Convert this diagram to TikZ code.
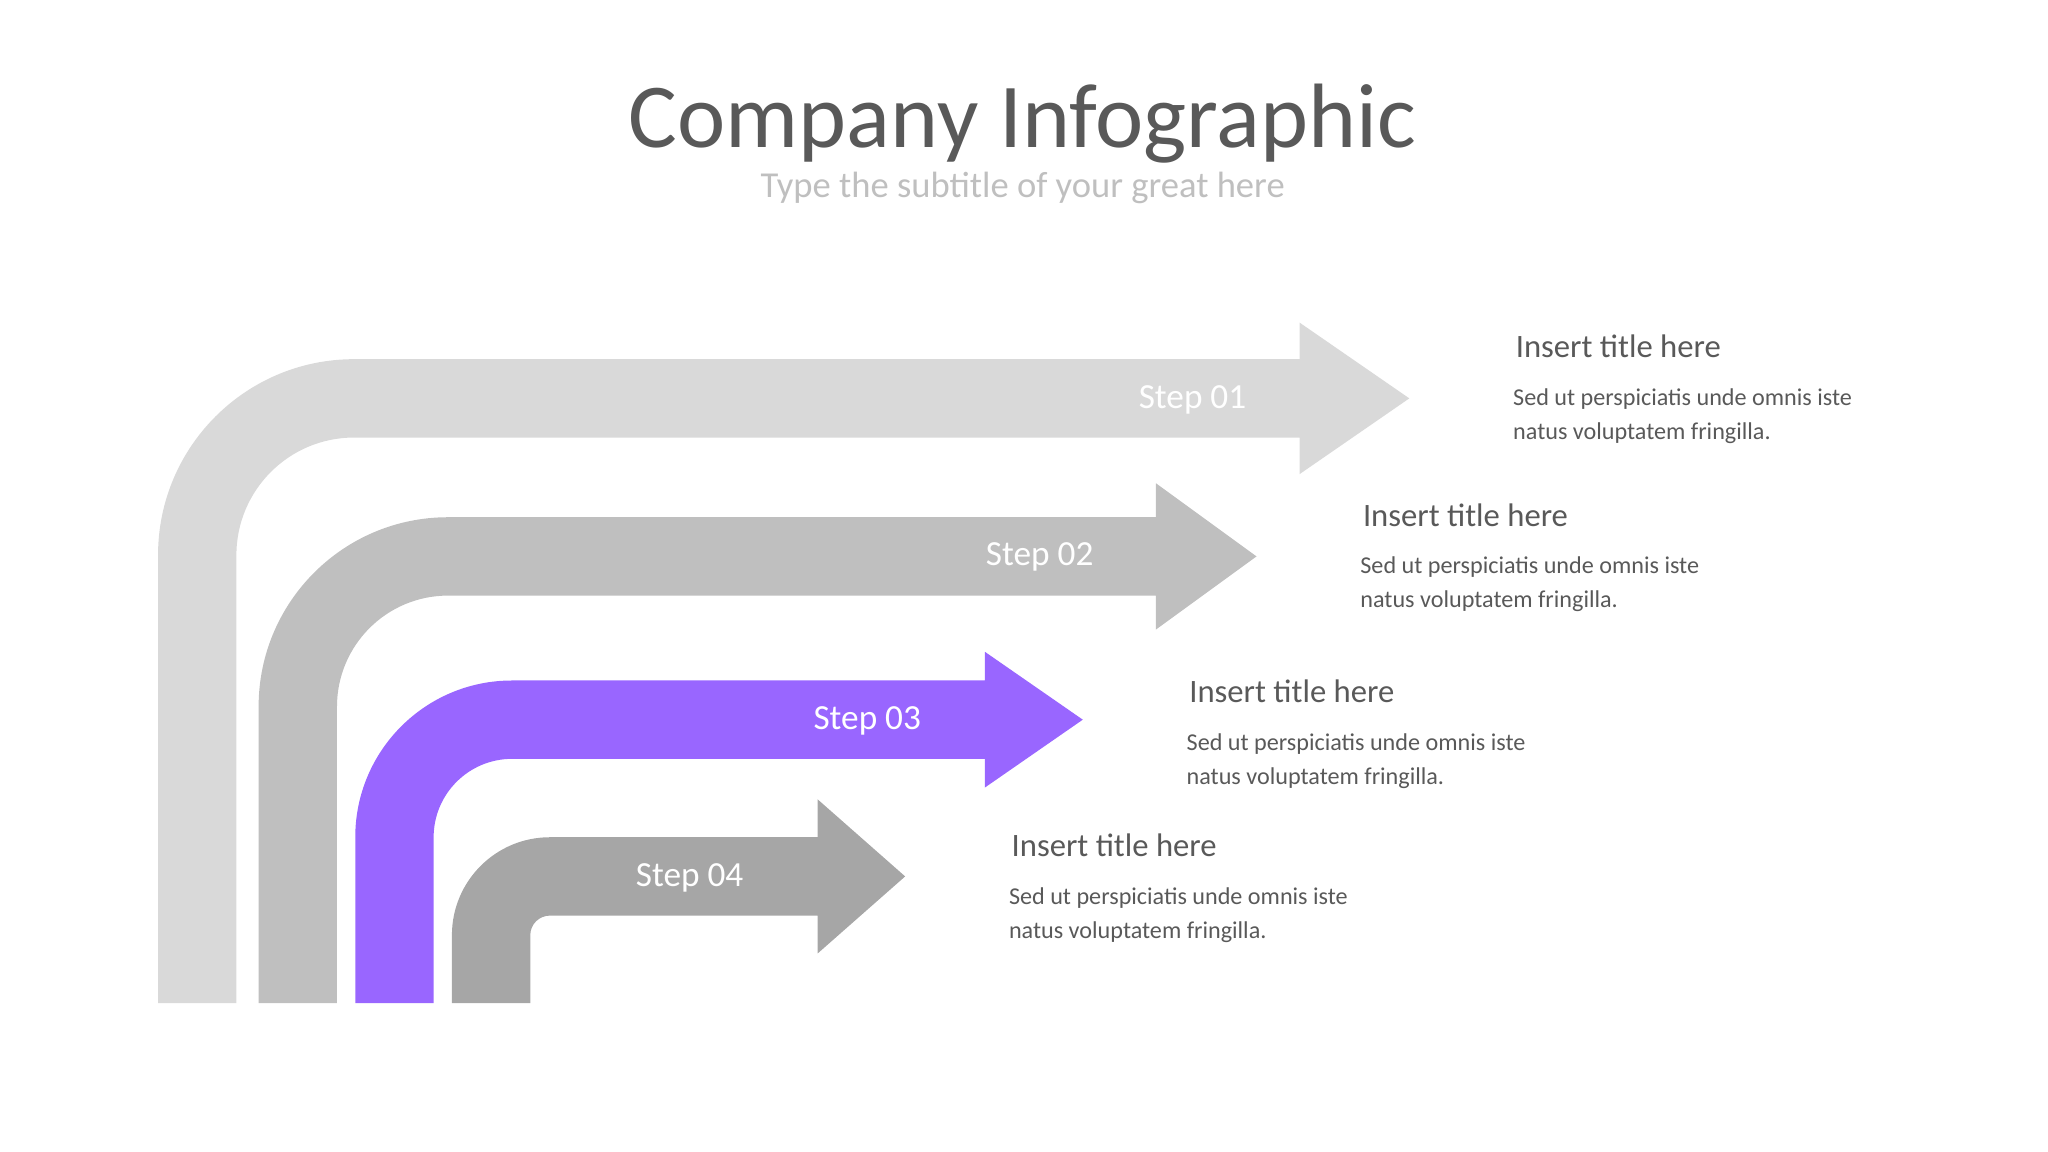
\documentclass[tikz,border=0pt]{standalone}
\usepackage{fontspec}
\setmainfont{Carlito}
\definecolor{stepA}{HTML}{D9D9D9}
\definecolor{stepB}{HTML}{BFBFBF}
\definecolor{stepC}{HTML}{9966FF}
\definecolor{stepD}{HTML}{A6A6A6}
\definecolor{ink}{HTML}{595959}
\tikzset{
  steplabel/.style={text=white, font=\fontsize{27}{30}\selectfont},
  head/.style={anchor=base west, text=ink, font=\fontsize{25}{30}\selectfont},
  body/.style={anchor=north west, text=ink, align=left, font=\fontsize{18.5}{26}\selectfont},
}
% bent arrow: #1 colour, #2 left x, #3 band top y, #4 outer radius, #5 head x, #6 head half height, #7 tip x
\newcommand{\bentarrow}[7]{%
  \fill[#1] (#2,-768) -- (#2,{-#3-#4}) arc (180:90:#4) -- (#5,-#3)
    -- (#5,{-#3-30+#6}) -- (#7,{-#3-30}) -- (#5,{-#3-30-#6}) -- (#5,{-#3-60})
    -- ({#2+#4},{-#3-60}) arc (90:180:{#4-60}) -- ({#2+60},-768) -- cycle;}
\begin{document}
\begin{tikzpicture}[x=1pt,y=1pt]
      \useasboundingbox (0,0) rectangle (1568,-882);
      % title
      \node[text=ink, font=\fontsize{70}{80}\selectfont, anchor=base] (title) at (783,-113) {Company Infographic};
      \node[text=stepB, font=\fontsize{28}{32}\selectfont, anchor=base] (subtitle) at (783,-151) {Type the subtitle of your great here};
      % arrows
      \bentarrow{stepA}{121}{275}{150}{995}{58}{1079}
      \bentarrow{stepB}{198}{396}{145}{885}{56}{962}
      \bentarrow{stepC}{272}{521}{120}{754}{52}{829}
      \bentarrow{stepD}{346}{641}{75}{626}{59}{693}
      % labels
      \node[steplabel] (s1) at (913,-306) {Step 01};
      \node[steplabel] (s2) at (796,-426) {Step 02};
      \node[steplabel] (s3) at (664,-552) {Step 03};
      \node[steplabel] (s4) at (528,-672) {Step 04};
      % texts
      \node[head] (h1) at (1157,-274) {Insert title here};
      \node[body] (b1) at (1155,-294) {Sed ut perspiciatis unde omnis iste\\natus voluptatem fringilla.};
      \node[head] (h2) at (1040,-403) {Insert title here};
      \node[body] (b2) at (1038,-423) {Sed ut perspiciatis unde omnis iste\\natus voluptatem fringilla.};
      \node[head] (h3) at (907,-538) {Insert title here};
      \node[body] (b3) at (905,-558) {Sed ut perspiciatis unde omnis iste\\natus voluptatem fringilla.};
      \node[head] (h4) at (771,-656) {Insert title here};
      \node[body] (b4) at (769,-676) {Sed ut perspiciatis unde omnis iste\\natus voluptatem fringilla.};
    \end{tikzpicture}
\end{document}
